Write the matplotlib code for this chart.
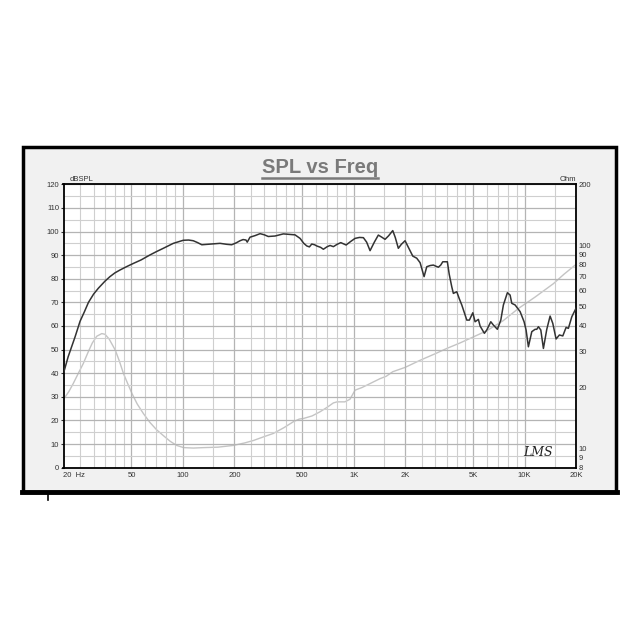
import matplotlib
matplotlib.use("Agg")
import matplotlib.pyplot as plt
from matplotlib.patches import Rectangle
from matplotlib.lines import Line2D

plt.rcParams['font.family'] = ['Liberation Sans', 'DejaVu Sans']

# --- donnees ---
spl_freq = [20, 21.3, 22.5, 23.4, 25, 26.5, 28, 30, 32, 35, 37.4, 40, 42.8, 47, 51.3, 57, 64.2, 70,
            76.8, 87.9, 100.5, 108, 115, 122, 129, 140, 151, 165, 180, 193, 205, 216, 225, 234, 238,
            247, 265, 283, 300, 316, 346, 387, 420, 453, 485, 510, 531, 550, 568, 590, 607, 640, 664,
            700, 727, 760, 800, 840, 870, 902, 960, 1018, 1080, 1139, 1190, 1246, 1320, 1393, 1460,
            1525, 1600, 1692, 1750, 1824, 1900, 1997, 2100, 2216, 2338, 2446, 2581, 2676, 2800, 2926,
            3030, 3130, 3230, 3320, 3532, 3620, 3748, 3830, 4010, 4150, 4290, 4450, 4590, 4752, 4977,
            5133, 5366, 5490, 5817, 6008, 6343, 6568, 6932, 7258, 7516, 7932, 8227, 8417, 8802, 9414,
            9934, 10206, 10528, 11022, 11524, 11792, 12050, 12446, 12890, 13490, 14106, 14628, 15292,
            15988, 16740, 17500, 18050, 18900, 20000]
spl_db = [40, 47, 52, 55.5, 62, 66, 70, 73.5, 76, 79, 80.9, 82.5, 83.7, 85.2, 86.5, 88, 90.1, 91.5,
          92.9, 95, 96.3, 96.4, 96.1, 95.3, 94.4, 94.6, 94.8, 95, 94.6, 94.4, 95.2, 96.1, 96.6, 96.4, 95.5,
          97.6, 98.3, 99.1, 98.6, 97.9, 98.1, 99, 98.8, 98.6, 97.1, 95, 93.9, 93.5, 94.7, 94.4, 93.9, 93.3, 92.5,
          93.6, 94.1, 93.6, 94.6, 95.3, 94.8, 94.3, 95.8, 97.1, 97.5, 97.4, 95.5, 91.9, 95.5, 98.5, 97.6,
          96.7, 98.2, 100.4, 97.5, 92.9, 94.6, 96.1, 93, 89.6, 88.7, 86.8, 80.9, 85.1, 85.6, 85.8,
          85.3, 84.9, 85.8, 87.2, 87.2, 82, 76.6, 73.8, 74.5, 71.5, 68.9, 65.5, 62.5, 62.5, 65.6,
          61.8, 62.8, 60, 56.9, 58.3, 61.8, 60.4, 58.6, 62.5, 68.9, 74.1, 73.1, 69.6, 68.9, 66.1,
          61.8, 58.3, 51.2, 57.6, 58.6, 58.6, 59.7, 58.3, 50.5, 58.6, 64.2, 61.1, 54.5,
          56.2, 55.8, 59.4, 59, 63.9, 67.5]

imp_freq = [20, 21.5, 22.8, 24.5, 26.1, 28, 29.5, 31.3, 33.5, 35, 37, 40.2, 42.5, 44.9, 47.5, 50.3,
            54, 58.7, 64, 70.2, 77, 84.2, 92, 101, 115, 132, 160, 197, 230, 259, 300, 338, 390, 444,
            480, 509, 570, 635, 700, 760, 800, 887, 950, 1018, 1120, 1246, 1426, 1550, 1692, 2000,
            2446, 3000, 3506, 4192, 5000, 6008, 7500, 9200, 11500, 14750, 17000, 20000]
imp_ohm = [17.4, 19, 20.8, 23.5, 26.1, 30, 33, 35.6, 36.7, 36.4, 34.5, 30.4, 26.8, 23.3, 20.8, 18.6,
           16.5, 14.8, 13.4, 12.3, 11.5, 10.8, 10.3, 10.05, 10.0, 10.05, 10.1, 10.3, 10.6, 10.9, 11.4, 11.8, 12.6, 13.5,
           13.9, 14, 14.4, 15.1, 15.9, 16.7, 16.9, 16.9, 17.4, 19.3, 19.9, 20.8, 22, 22.6, 23.8, 25,
           27.1, 29.2, 31, 33, 35.3, 37.9, 42.5, 48.8, 55.5, 64.7, 72, 80.5]

x_ticks = [20, 50, 100, 200, 500, 1000, 2000, 5000, 10000, 20000]
x_labels = ["20  Hz", "50", "100", "200", "500", "1K", "2K", "5K", "10K", "20K"]
ohm_ticks = [8, 9, 10, 20, 30, 40, 50, 60, 70, 80, 90, 100, 200]
grid_mult = [1, 1.5, 2, 2.5, 3, 3.5, 4, 4.5, 5, 6, 7, 8, 9]

# --- figure ---
fig = plt.figure(figsize=(6.4, 6.4), dpi=100)
fig.patch.set_facecolor("white")

W, H = 640.0, 640.0
def fx(px):
    return px / W
def fy(py):
    return 1 - py / H

# cadre gris
fig.add_artist(Rectangle((fx(23), fy(492)), fx(616) - fx(23), fy(147) - fy(492),
                         transform=fig.transFigure, facecolor="#f1f1f1",
                         edgecolor="black", linewidth=2.5, zorder=-1))
fig.add_artist(Line2D([fx(22), fx(617)], [fy(492), fy(492)], transform=fig.transFigure,
                      color="black", linewidth=3.5))
fig.add_artist(Line2D([fx(48), fx(48)], [fy(494), fy(500)], transform=fig.transFigure,
                      color="black", linewidth=1.2))

ax = fig.add_axes([fx(63.5), fy(467.7), fx(576) - fx(63.5), fy(184.3) - fy(467.7)])
ax.set_xscale("log")
ax.set_xlim(20, 20000)
ax.set_ylim(0, 120)

minor_x = [m * d for d in [10, 100, 1000, 10000] for m in grid_mult if 20 <= m * d <= 20000]
ax.set_xticks(minor_x, minor=True)
ax.set_xticks(x_ticks)
ax.set_xticklabels(x_labels)
ax.xaxis.set_minor_formatter(plt.NullFormatter())
ax.set_yticks(range(0, 121, 10))
ax.set_yticks(range(5, 120, 10), minor=True)

ax.grid(True, which="major", color="#b4b4b4", linewidth=0.9)
ax.grid(True, which="minor", color="#cfcfcf", linewidth=0.8)
ax.set_axisbelow(True)

ax.tick_params(axis="x", which="both", length=0, labelsize=5.5, pad=3, colors="#333333")
ax.tick_params(axis="y", which="major", length=2, labelsize=5.5, pad=1, colors="#333333")
ax.tick_params(axis="y", which="minor", length=0)
ax.get_xticklabels()[0].set_horizontalalignment("left")
for sp in ax.spines.values():
    sp.set_color("black")
    sp.set_linewidth(1.3)

# axe droit (impedance), dessine sous l'axe principal
ax2 = ax.twinx()
ax2.set_yscale("log")
ax2.set_ylim(8, 200)
ax2.set_yticks(ohm_ticks)
ax2.set_yticklabels([str(t) for t in ohm_ticks])
ax2.yaxis.set_minor_locator(plt.NullLocator())
ax2.tick_params(axis="y", length=0, labelsize=5.5, pad=2, colors="#333333")
for sp in ax2.spines.values():
    sp.set_visible(False)
ax2.patch.set_visible(True)
ax2.set_facecolor("white")

ax2.plot(imp_freq, imp_ohm, color="#c4c4c4", linewidth=1.0)
ax.plot(spl_freq, spl_db, color="#333333", linewidth=1.1, zorder=3)
ax.set_zorder(ax2.get_zorder() + 1)
ax.patch.set_visible(False)

# textes
fig.text(fx(320), fy(173), "SPL vs Freq", ha="center", va="baseline", fontsize=14.5,
         fontweight="bold", color="#7a7a7a")
fig.add_artist(Line2D([fx(262), fx(378)], [fy(177.5), fy(177.5)], transform=fig.transFigure,
                      color="#7a7a7a", linewidth=1.8))
fig.text(fx(70), fy(181), "dBSPL", ha="left", va="baseline", fontsize=5.5, color="#333333")
fig.text(fx(576), fy(181), "Ohm", ha="right", va="baseline", fontsize=5.5, color="#333333")
ax.text(0.955, 0.03, "LMS", transform=ax.transAxes, ha="right", va="bottom",
        fontsize=9, style="italic", color="#222222", family=["DejaVu Serif"])

fig.savefig("out.png", dpi=100, facecolor="white")
